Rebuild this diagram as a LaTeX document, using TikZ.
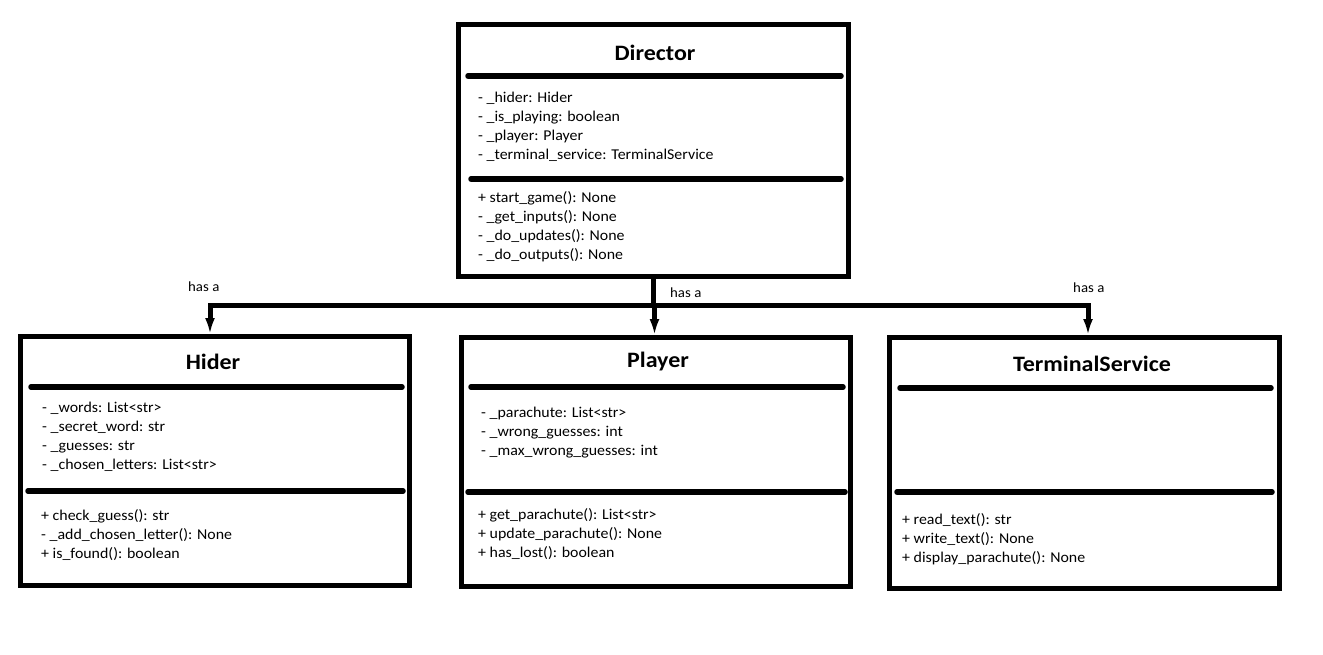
\documentclass[tikz,border=0pt]{standalone}
\usepackage{fontspec}
\setmainfont{Carlito}
\newfontfamily\bodyfont[FakeStretch=1.06]{Carlito}
\newfontfamily\headfont[FakeStretch=1.09]{Carlito}
\usetikzlibrary{arrows.meta}
\begin{document}
\begin{tikzpicture}[x=1pt,y=-1pt,
  umlbox/.style={draw=black, line width=5pt, fill=none, inner sep=0pt},
  sepline/.style={line width=5.5pt, line cap=round},
  title/.style={anchor=base, inner sep=0pt, font=\headfont\fontsize{22}{26}\selectfont\bfseries},
  txt/.style={anchor=base west, inner sep=0pt, font=\bodyfont\fontsize{15}{18}\selectfont},
  lbl/.style={anchor=base west, inner sep=0pt, font=\bodyfont\fontsize{14}{16}\selectfont},
  conn/.style={line width=5pt},
  arr/.style={line width=5pt, -{Latex[length=16pt,width=10pt]}}
]
\useasboundingbox[fill=white] (0,0) rectangle (1323,654);

% ---------- Director ----------
\node[umlbox, minimum width=390pt, minimum height=252pt] (director) at (653.5,150.5) {};
\node[title] (dirT) at (655,60) {Director};
\draw[sepline] (468,76) -- (841,76);
\node[txt] (dA1) at (478,102) {- \_hider: Hider};
\node[txt] (dA2) at (478,121) {- \_is\_playing: boolean};
\node[txt] (dA3) at (478,140) {- \_player: Player};
\node[txt] (dA4) at (478,159) {- \_terminal\_service: TerminalService};
\draw[sepline] (471,179) -- (841,179);
\node[txt] (dM1) at (478,202) {+ start\_game(): None};
\node[txt] (dM2) at (478,221) {- \_get\_inputs(): None};
\node[txt] (dM3) at (478,240) {- \_do\_updates(): None};
\node[txt] (dM4) at (478,259) {- \_do\_outputs(): None};

% ---------- Hider ----------
\node[umlbox, minimum width=389pt, minimum height=249pt] (hider) at (215,461) {};
\node[title] (hidT) at (213,369) {Hider};
\draw[sepline] (31,387) -- (402,387);
\node[txt] (hA1) at (42,412) {- \_words: List<str>};
\node[txt] (hA2) at (42,431) {- \_secret\_word: str};
\node[txt] (hA3) at (42,450) {- \_guesses: str};
\node[txt] (hA4) at (42,469) {- \_chosen\_letters: List<str>};
\draw[sepline] (28,491) -- (403,491);
\node[txt] (hM1) at (41,520) {+ check\_guess(): str};
\node[txt] (hM2) at (41,539) {- \_add\_chosen\_letter(): None};
\node[txt] (hM3) at (41,558) {+ is\_found(): boolean};

% ---------- Player ----------
\node[umlbox, minimum width=389pt, minimum height=249pt] (player) at (656,462) {};
\node[title] (plaT) at (658,367) {Player};
\draw[sepline] (471,387) -- (843,387);
\node[txt] (pA1) at (481,417) {- \_parachute: List<str>};
\node[txt] (pA2) at (481,436) {- \_wrong\_guesses: int};
\node[txt] (pA3) at (481,455) {- \_max\_wrong\_guesses: int};
\draw[sepline] (468,492) -- (845,492);
\node[txt] (pM1) at (478,519) {+ get\_parachute(): List<str>};
\node[txt] (pM2) at (478,538) {+ update\_parachute(): None};
\node[txt] (pM3) at (478,557) {+ has\_lost(): boolean};

% ---------- TerminalService ----------
\node[umlbox, minimum width=390pt, minimum height=251pt] (terminal) at (1084.5,463) {};
\node[title] (tsT) at (1092,371) {TerminalService};
\draw[sepline] (900,388) -- (1271,388);
\draw[sepline] (897,492) -- (1272,492);
\node[txt] (tM1) at (902,524) {+ read\_text(): str};
\node[txt] (tM2) at (902,543) {+ write\_text(): None};
\node[txt] (tM3) at (902,562) {+ display\_parachute(): None};

% ---------- connectors ----------
\coordinate (jn) at (653.5,305.5);
\coordinate (hin) at (210,334);
\coordinate (pin) at (654.5,335);
\coordinate (tin) at (1088,335);
\draw[conn] (director.south) -- (jn);
\draw[arr] (jn) -| (hin);
\draw[arr] (jn) -| (tin);
\draw[arr] (jn -| pin) -- (pin);
\node[lbl] (l1) at (188,291) {has a};
\node[lbl] (l2) at (670,297) {has a};
\node[lbl] (l3) at (1073,292) {has a};
\end{tikzpicture}
\end{document}
